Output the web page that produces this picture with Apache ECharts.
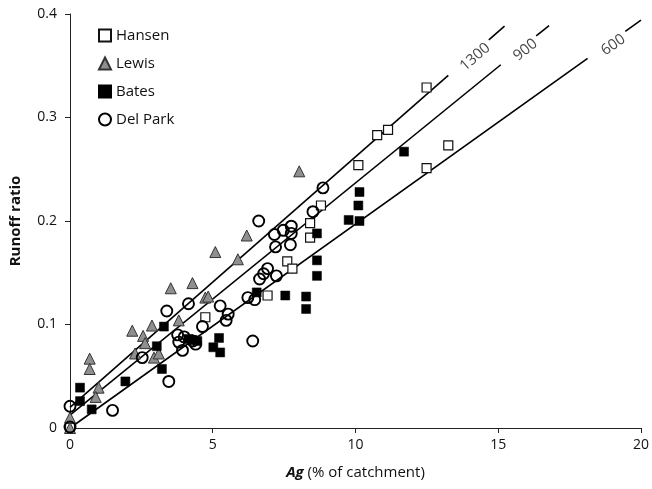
<!DOCTYPE html>
<html>
<head>
<meta charset="utf-8">
<script src="https://cdn.jsdelivr.net/npm/echarts@6/dist/echarts.min.js"></script>
<style>html,body{margin:0;padding:0;background:#fff}#c{width:652px;height:489px}</style>
</head>
<body>
<div id="c"></div>
<script>
// ---- data ----
const hansen = [[0,0.0],[4.74,0.107],[6.92,0.128],[7.61,0.161],[7.79,0.154],[8.41,0.184],[8.41,0.198],[8.79,0.215],[10.10,0.254],[10.76,0.283],[11.14,0.288],[12.49,0.329],[13.25,0.273],[12.49,0.251]];
const lewis = [[0,0.010],[0,0.0],[0.69,0.067],[0.69,0.057],[1.0,0.039],[0.90,0.030],[2.18,0.094],[2.56,0.089],[2.87,0.099],[2.63,0.082],[2.28,0.072],[2.94,0.068],[3.11,0.072],[3.53,0.135],[3.81,0.104],[4.29,0.140],[4.74,0.126],[4.84,0.127],[5.09,0.170],[5.88,0.163],[6.19,0.186],[8.03,0.248]];
const bates = [[0.35,0.039],[0.35,0.026],[0.76,0.018],[1.94,0.045],[3.04,0.079],[3.22,0.057],[3.29,0.098],[4.15,0.086],[4.30,0.085],[4.46,0.084],[5.22,0.087],[5.02,0.078],[5.26,0.073],[6.54,0.131],[7.54,0.128],[8.27,0.127],[8.27,0.115],[8.65,0.162],[8.65,0.147],[8.65,0.188],[9.76,0.201],[10.14,0.200],[10.10,0.215],[10.14,0.228],[11.70,0.267]];
const delPark = [[0,0.021],[0,0.001],[1.49,0.017],[2.53,0.068],[3.46,0.045],[3.39,0.113],[3.77,0.090],[3.81,0.083],[3.94,0.075],[4.00,0.088],[4.30,0.084],[4.40,0.081],[4.15,0.120],[4.64,0.098],[5.26,0.118],[5.54,0.110],[5.47,0.104],[6.40,0.084],[6.23,0.126],[6.47,0.124],[6.64,0.144],[6.78,0.149],[6.92,0.154],[7.23,0.147],[6.61,0.200],[7.16,0.187],[7.47,0.191],[7.75,0.195],[7.75,0.188],[7.20,0.175],[7.72,0.177],[8.51,0.209],[8.86,0.232]];

// model lines (runoff ratio = intercept + slope * Ag)
const lineNames = ['1300','900','600'];
const lineIntercepts = [0.020, 0.0125, 0.0];
const lineSlopes = [0.0242, 0.02243, 0.0197];
const lineSolidEnd = [13.25, 15.09, 18.13];
const lineLabelAt = [14.05, 15.81, 18.89];
const lineDashStart = [14.67, 16.33, 19.45];
const lineDashEnd = [15.22, 16.78, 20.0];
const lineLabelAngle = [41, 38.5, 35];

const xTicks = {min:0, max:20, interval:5};
const yTicks = {min:0, max:0.4, interval:0.1};

// ---- chart ----
const FONT = '"Open Sans", "Noto Sans", sans-serif';
const chart = echarts.init(document.getElementById('c'), null, {renderer:'canvas'});
const f = (i, x) => [x, lineIntercepts[i] + lineSlopes[i] * x];
const series = [];
lineNames.forEach((n, i) => {
  series.push({type:'line', name:'L'+n, data:[f(i,0), f(i,lineSolidEnd[i])], symbol:'none', silent:true,
    lineStyle:{color:'#000', width:1.6}, z:1});
  series.push({type:'line', name:'D'+n, data:[f(i,lineDashStart[i]), f(i,lineDashEnd[i])], symbol:'none', silent:true,
    lineStyle:{color:'#000', width:1.6}, z:1});
  series.push({type:'scatter', name:'T'+n, data:[f(i,lineLabelAt[i])], symbolSize:0, silent:true,
    label:{show:true, formatter:n, position:'inside', rotate:lineLabelAngle[i], offset:[2,4], fontFamily:FONT, fontSize:15, color:'#111'}, z:3});
});
series.push({type:'scatter', name:'Hansen', data:hansen, symbol:'rect', symbolSize:9,
  itemStyle:{color:'#fff', borderColor:'#111', borderWidth:1.2, opacity:1}, z:4});
series.push({type:'scatter', name:'Lewis', data:lewis, symbol:'triangle', symbolSize:11,
  itemStyle:{color:'#8f8f8f', borderColor:'#333', borderWidth:1, opacity:1}, z:4});
series.push({type:'scatter', name:'Bates', data:bates, symbol:'rect', symbolSize:9,
  itemStyle:{color:'#000', borderColor:'#000', borderWidth:0.5, opacity:1}, z:4});
series.push({type:'scatter', name:'Del Park', data:delPark, symbol:'circle', symbolSize:11,
  itemStyle:{color:'rgba(255,255,255,0)', borderColor:'#000', borderWidth:1.9, opacity:1}, z:5});

chart.setOption({
  animation:false,
  backgroundColor:'#fff',
  grid:{left:68, right:6, top:14, bottom:61, containLabel:false},
  legend:{data:['Hansen','Lewis','Bates','Del Park'], orient:'vertical', left:93, top:23, itemGap:13,
    itemWidth:12, itemHeight:12, textStyle:{fontFamily:FONT, fontSize:15, color:'#111'}},
  xAxis:{type:'value', min:xTicks.min, max:xTicks.max, interval:xTicks.interval,
    name:'{b|Ag} (% of catchment)', nameLocation:'middle', nameGap:37,
    nameTextStyle:{fontFamily:FONT, fontSize:15, color:'#111', rich:{b:{fontFamily:FONT, fontSize:15, fontWeight:'bold', fontStyle:'italic', color:'#111'}}},
    axisLine:{lineStyle:{color:'#222', width:1}}, axisTick:{show:true, length:5, lineStyle:{color:'#222'}},
    axisLabel:{fontFamily:FONT, fontSize:14, color:'#111', margin:10}, splitLine:{show:false}},
  yAxis:{type:'value', min:yTicks.min, max:yTicks.max, interval:yTicks.interval,
    name:'Runoff ratio', nameLocation:'middle', nameGap:47,
    nameTextStyle:{fontFamily:FONT, fontSize:15, fontWeight:'bold', color:'#111'},
    axisLine:{show:true, lineStyle:{color:'#222', width:1}}, axisTick:{show:true, length:5, lineStyle:{color:'#222'}},
    axisLabel:{fontFamily:FONT, fontSize:14, color:'#111', margin:13}, splitLine:{show:false}},
  series:series
});
</script>
</body>
</html>
